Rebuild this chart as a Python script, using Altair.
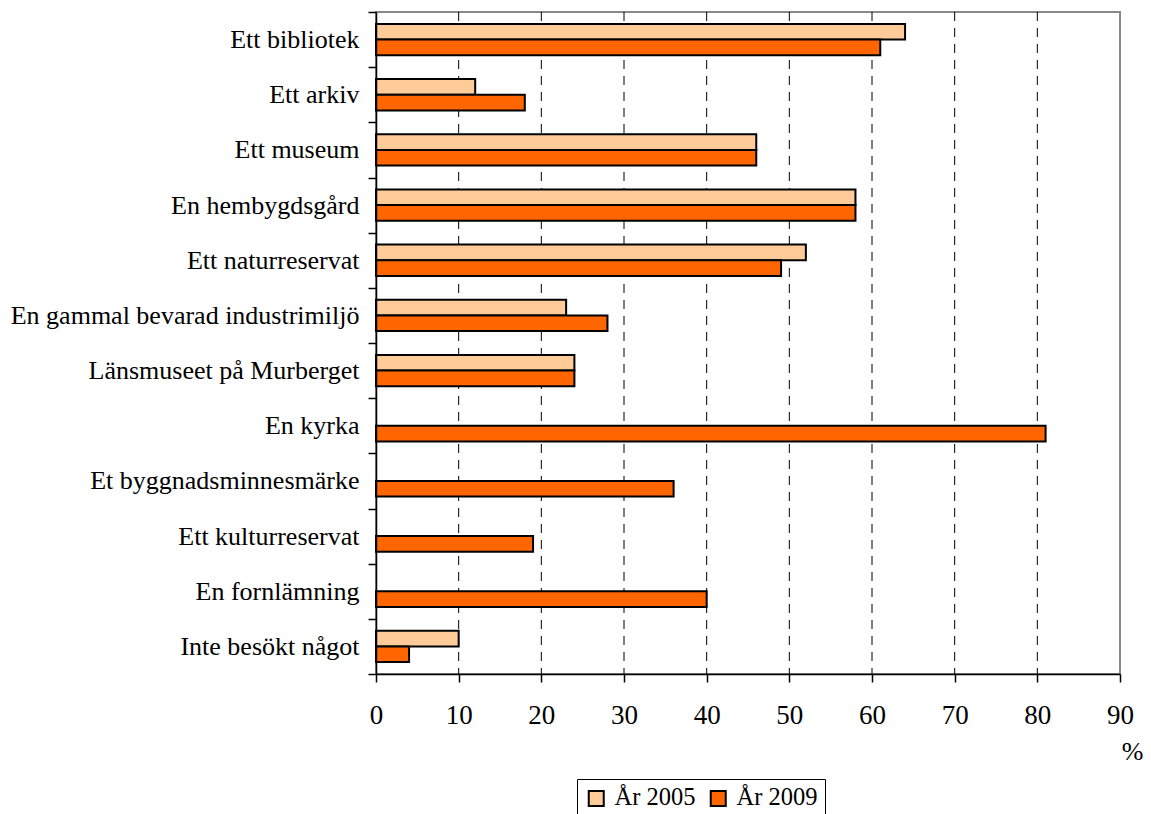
import altair as alt
import pandas as pd

categories = [
    "Ett bibliotek", "Ett arkiv", "Ett museum", "En hembygdsgård",
    "Ett naturreservat", "En gammal bevarad industrimiljö",
    "Länsmuseet på Murberget", "En kyrka", "Et byggnadsminnesmärke",
    "Ett kulturreservat", "En fornlämning", "Inte besökt något",
]
v2005 = [64, 12, 46, 58, 52, 23, 24, None, None, None, None, 10]
v2009 = [61, 18, 46, 58, 49, 28, 24, 81, 36, 19, 40, 4]
series = ["År 2005", "År 2009"]
colors = ["#FFCC99", "#FF6600"]
x_ticks = [0, 10, 20, 30, 40, 50, 60, 70, 80, 90]
grid_vals = [10, 20, 30, 40, 50, 60, 70, 80]

rows = []
for c, a, b in zip(categories, v2005, v2009):
    if a is not None:
        rows.append({"kat": c, "serie": series[0], "v": a})
    if b is not None:
        rows.append({"kat": c, "serie": series[1], "v": b})
df = pd.DataFrame(rows)
grid_df = pd.DataFrame({"g": grid_vals})

FONT = "Liberation Serif"
xscale = alt.Scale(domain=[0, 90], nice=False, zero=True)
xaxis = alt.Axis(values=x_ticks, title="%", grid=False, tickSize=8, tickColor="black",
                 tickWidth=1.5, domainColor="black", domainWidth=1.5, labelFlush=False,
                 labelFont=FONT, labelFontSize=27, labelColor="black", labelPadding=20,
                 titleFont=FONT, titleFontSize=26, titleFontWeight="normal",
                 titleColor="black", titleAnchor="end", titleAlign="right",
                 titleX=767, titleY=77, titleBaseline="middle", zindex=1)

grid = alt.Chart(grid_df).mark_rule(color="black", strokeWidth=1, strokeDash=[9, 7]).encode(
    x=alt.X("g:Q", scale=xscale, axis=xaxis)
)

bars = alt.Chart(df).mark_bar(stroke="black", strokeWidth=2).encode(
    y=alt.Y("kat:N", sort=categories,
            scale=alt.Scale(domain=categories, paddingInner=0, paddingOuter=0),
            axis=alt.Axis(title=None, labelFont=FONT, labelFontSize=26, labelColor="black",
                          tickBand="extent", tickSize=8, tickColor="black", tickWidth=1.5,
                          domainColor="black", domainWidth=1.5, labelPadding=9,
                          labelLimit=500, grid=False, zindex=1)),
    yOffset=alt.YOffset("serie:N", scale=alt.Scale(domain=series, paddingInner=0, paddingOuter=0.757)),
    x=alt.X("v:Q", scale=xscale, axis=xaxis),
    color=alt.Color("serie:N", scale=alt.Scale(domain=series, range=colors),
                    legend=alt.Legend(title=None, orient="none", legendX=201, legendY=767,
                                      direction="horizontal", strokeColor="black",
                                      fillColor="white", padding=7,
                                      labelFont=FONT, labelFontSize=24.5, labelColor="black",
                                      symbolType="square", symbolSize=225,
                                      symbolStrokeColor="black", symbolStrokeWidth=2,
                                      columnPadding=10, labelOffset=6)),
)

chart = alt.layer(grid, bars).properties(
    width=744, height=662,
    background="white",
    autosize=alt.AutoSizeParams(type="none"),
    padding={"left": 368, "top": 4, "right": 23, "bottom": 140},
).configure_view(stroke="#888888", strokeWidth=2)

chart.save("out.html", embed_options={"renderer": "svg", "actions": False})
